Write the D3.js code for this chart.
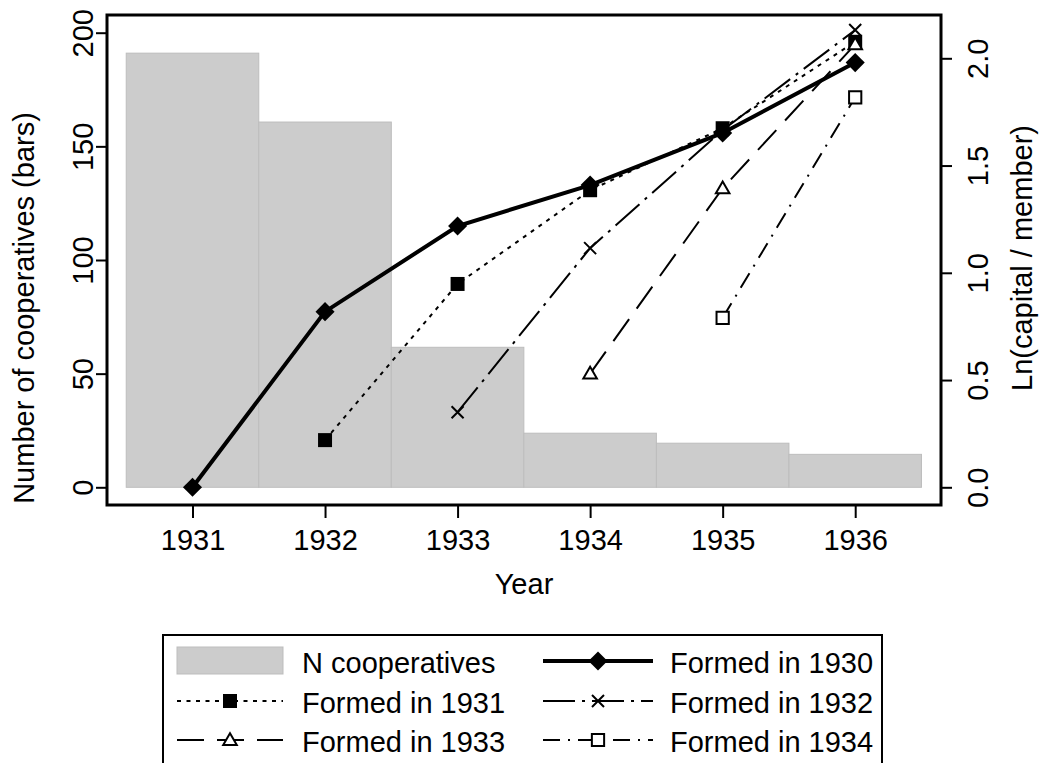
<!DOCTYPE html>
<html>
<head>
<meta charset="utf-8">
<script src="https://cdn.jsdelivr.net/npm/d3@7"></script>
<style>
  body { margin: 0; background: #fff; }
  svg text { font-family: "Liberation Sans", Arial, sans-serif; font-size: 29px; fill: #000; }
</style>
</head>
<body>
<div id="chart"></div>
<script>
// Cooperatives: count per year (bars) and ln(capital / member) by founding cohort (lines)

const years = [1931, 1932, 1933, 1934, 1935, 1936];
const nCoops = [191, 160.7, 61.6, 23.8, 19.4, 14.5];

const leftTicks = [0, 50, 100, 150, 200];
const rightTicks = [0, 0.5, 1, 1.5, 2];

const years1930 = [1931, 1932, 1933, 1934, 1935, 1936];
const ln1930 = [0, 0.819, 1.218, 1.409, 1.652, 1.98];
const years1931 = [1932, 1933, 1934, 1935, 1936];
const ln1931 = [0.22, 0.948, 1.385, 1.674, 2.077];
const years1932 = [1933, 1934, 1935, 1936];
const ln1932 = [0.35, 1.115, 1.665, 2.132];
const years1933 = [1934, 1935, 1936];
const ln1933 = [0.53, 1.394, 2.065];
const years1934 = [1935, 1936];
const ln1934 = [0.79, 1.818];

const seriesLabels = ["Formed in 1930", "Formed in 1931", "Formed in 1932", "Formed in 1933", "Formed in 1934"];

const W = 1040, H = 763;
const frame = { left: 107, right: 941, top: 15, bottom: 505 };

const x = d3.scaleLinear().domain([1931, 1936]).range([192.5, 855.2]);
const yL = d3.scaleLinear().domain([0, 200]).range([487.3, 32.7]);
const yR = d3.scaleLinear().domain([0, 2]).range([487.3, 58.3]);

const svg = d3.select("#chart").append("svg")
  .attr("width", W).attr("height", H);
svg.append("rect").attr("width", W).attr("height", H).attr("fill", "#fff");

// ----- bars -----
const barData = years.map((yr, i) => ({ year: yr, value: nCoops[i] }));
svg.selectAll(".bar")
  .data(barData).enter().append("rect")
  .attr("class", "bar")
  .attr("x", d => x(d.year - 0.5))
  .attr("y", d => yL(d.value))
  .attr("width", d => x(d.year + 0.5) - x(d.year - 0.5))
  .attr("height", d => yL(0) - yL(d.value))
  .attr("fill", "#cccccc")
  .attr("stroke", "#bdbdbd")
  .attr("stroke-width", 1);

// ----- line styles -----
const styles = [
  { width: 4, dash: null, shape: "diamond" },
  { width: 2, dash: "4,5.5", shape: "square" },
  { width: 2, dash: "32,7,3,7", shape: "times" },
  { width: 2, dash: "27,13", shape: "triangle" },
  { width: 2, dash: "17,8,2,8", shape: "opensquare" }
];

function marker(g, shape, cx, cy) {
  if (shape === "diamond") {
    g.append("path").attr("d", d3.symbol(d3.symbolSquare, 182)())
      .attr("transform", `translate(${cx},${cy}) rotate(45)`).attr("fill", "#000");
  } else if (shape === "square") {
    g.append("path").attr("d", d3.symbol(d3.symbolSquare, 196)())
      .attr("transform", `translate(${cx},${cy})`).attr("fill", "#000");
  } else if (shape === "times") {
    g.append("path").attr("d", "M-6,-6L6,6M-6,6L6,-6")
      .attr("transform", `translate(${cx},${cy})`)
      .attr("fill", "none").attr("stroke", "#000").attr("stroke-width", 2);
  } else if (shape === "triangle") {
    g.append("path").attr("d", d3.symbol(d3.symbolTriangle, 80)())
      .attr("transform", `translate(${cx},${cy + 1})`)
      .attr("fill", "#fff").attr("stroke", "#000").attr("stroke-width", 2);
  } else {
    g.append("path").attr("d", d3.symbol(d3.symbolSquare, 150)())
      .attr("transform", `translate(${cx},${cy})`)
      .attr("fill", "#fff").attr("stroke", "#000").attr("stroke-width", 2);
  }
}

const seriesYears = [years1930, years1931, years1932, years1933, years1934];
const seriesVals = [ln1930, ln1931, ln1932, ln1933, ln1934];

const line = d3.line().x(d => x(d.year)).y(d => yR(d.value));

seriesYears.forEach((ys, k) => {
  const pts = ys.map((yr, i) => ({ year: yr, value: seriesVals[k][i] }));
  const st = styles[k];
  const g = svg.append("g");
  g.append("path").datum(pts)
    .attr("d", line)
    .attr("fill", "none")
    .attr("stroke", "#000")
    .attr("stroke-width", st.width)
    .attr("stroke-dasharray", st.dash);
  pts.forEach(p => marker(g, st.shape, x(p.year), yR(p.value)));
});

// ----- frame & axes -----
svg.append("rect")
  .attr("x", frame.left).attr("y", frame.top)
  .attr("width", frame.right - frame.left).attr("height", frame.bottom - frame.top)
  .attr("fill", "none").attr("stroke", "#000").attr("stroke-width", 3);

const axisB = svg.append("g").attr("transform", `translate(0,${frame.bottom})`)
  .call(d3.axisBottom(x).tickValues(years).tickFormat(d3.format("d")).tickSize(13).tickSizeOuter(0));
const axisL = svg.append("g").attr("transform", `translate(${frame.left},0)`)
  .call(d3.axisLeft(yL).tickValues(leftTicks).tickFormat(d3.format("d")).tickSize(11).tickSizeOuter(0));
const axisR = svg.append("g").attr("transform", `translate(${frame.right},0)`)
  .call(d3.axisRight(yR).tickValues(rightTicks).tickFormat(d3.format(".1f")).tickSize(11).tickSizeOuter(0));

[axisB, axisL, axisR].forEach(a => {
  a.select(".domain").remove();
  a.selectAll(".tick line").attr("stroke", "#000").attr("stroke-width", 2);
  a.selectAll(".tick text").attr("font-size", null).attr("font-family", null).attr("fill", "#000");
});
axisB.selectAll(".tick text").attr("y", 45).attr("dy", null);
axisL.selectAll(".tick text")
  .attr("x", null).attr("dy", null).attr("text-anchor", "middle")
  .attr("transform", "translate(-14,0) rotate(-90)");
axisR.selectAll(".tick text")
  .attr("x", null).attr("dy", null).attr("text-anchor", "middle")
  .attr("transform", "translate(47,0) rotate(-90)");

svg.append("text").attr("x", (frame.left + frame.right) / 2).attr("y", 594)
  .attr("text-anchor", "middle").text("Year");
svg.append("text").attr("transform", "translate(33.5,308) rotate(-90)")
  .attr("text-anchor", "middle").text("Number of cooperatives (bars)");
svg.append("text").attr("transform", "translate(1032,258) rotate(-90)")
  .attr("text-anchor", "middle").text("Ln(capital / member)");

// ----- legend -----
const leg = svg.append("g");
leg.append("rect").attr("x", 163).attr("y", 635).attr("width", 719).attr("height", 140)
  .attr("fill", "#fff").attr("stroke", "#000").attr("stroke-width", 2);

const rowY = [661, 701, 740];
const col = [{ x0: 177, x1: 283, xt: 302 }, { x0: 543, x1: 653, xt: 670 }];

leg.append("rect").attr("x", 177).attr("y", 647).attr("width", 106).attr("height", 27)
  .attr("fill", "#cccccc").attr("stroke", "#bdbdbd");
leg.append("text").attr("x", col[0].xt).attr("y", rowY[0] + 12).text("N cooperatives");

// legend slots: (row, col) for each series in order
const slots = [[0, 1], [1, 0], [1, 1], [2, 0], [2, 1]];
seriesLabels.forEach((lab, k) => {
  const [r, c] = slots[k];
  const st = styles[k];
  const cc = col[c];
  const cy = rowY[r];
  leg.append("line").attr("x1", cc.x0).attr("x2", cc.x1).attr("y1", cy).attr("y2", cy)
    .attr("stroke", "#000").attr("stroke-width", st.width).attr("stroke-dasharray", st.dash);
  marker(leg, st.shape, (cc.x0 + cc.x1) / 2, cy);
  leg.append("text").attr("x", cc.xt).attr("y", cy + 12).text(lab);
});
</script>
</body>
</html>
